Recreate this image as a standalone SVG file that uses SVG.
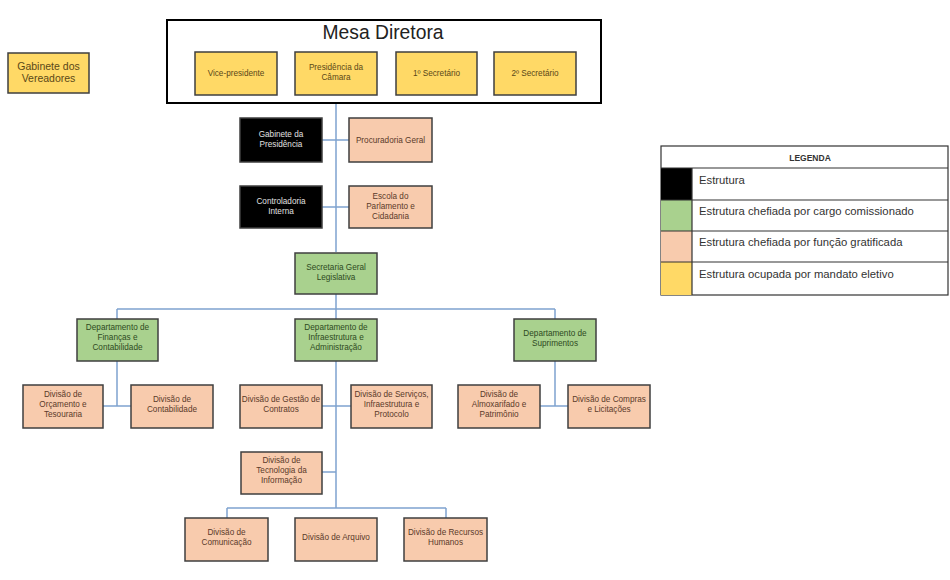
<svg xmlns="http://www.w3.org/2000/svg" width="950" height="580" viewBox="0 0 950 580">
<style>
.b{stroke:#3f3f3f;stroke-width:1.5}
.y{fill:#FFD966}.g{fill:#A9D18E}.o{fill:#F8CBAD}.k{fill:#000}
.t{font-family:"Liberation Sans",Arial,sans-serif;font-size:8.2px;fill:#3d3d3d;text-anchor:middle}
.ty{fill:#5a4818}.tg{fill:#2e4a22}.to{fill:#5a3a2a}
.w{fill:#e0e0e0}
.c{stroke:#7fa3cf;stroke-width:1.5;fill:none}
.lg{font-family:"Liberation Sans",Arial,sans-serif;font-size:11.3px;fill:#333}
</style>
<rect width="950" height="580" fill="#fff"/>
<g id="connectors">
<path class="c" d="M336 103V252M322 140H349M322 207H349M336 294V319M117 309H555M117 309V319M555 309V319M336 361V508M117 361V406M103 406H131M322 406H351M555 361V406M540 406H568M322 472H336M227 508H446M227 508V518M446 508V518"/>
</g>
<g id="mesa">
<rect x="167" y="20" width="434" height="83" fill="#fff" stroke="#000" stroke-width="2"/>
<text x="383" y="39" font-family="Liberation Sans,Arial,sans-serif" font-size="19.3" text-anchor="middle" fill="#222">Mesa Diretora</text>
</g>
<g id="vice"><rect class="b y" x="195" y="52" width="82" height="43"/><text class="t ty" x="236" y="76">Vice-presidente</text></g>
<g id="presidencia"><rect class="b y" x="295" y="52" width="82" height="43"/><text class="t ty" x="336" y="70">Presidência da<tspan x="336" dy="10">Câmara</tspan></text></g>
<g id="sec1"><rect class="b y" x="396" y="52" width="81" height="43"/><text class="t ty" x="436.5" y="76">1º Secretário</text></g>
<g id="sec2"><rect class="b y" x="494" y="52" width="82" height="43"/><text class="t ty" x="535" y="76">2º Secretário</text></g>
<g id="vereadores"><rect class="b y" x="8" y="53" width="81" height="40"/><text class="t ty" x="48.5" y="70" style="font-size:10.5px">Gabinete dos<tspan x="48.5" dy="12">Vereadores</tspan></text></g>
<g id="gabpres"><rect class="b k" x="240" y="118" width="82" height="44"/><text class="t w" x="281" y="137">Gabinete da<tspan x="281" dy="10">Presidência</tspan></text></g>
<g id="procuradoria"><rect class="b o" x="349" y="118" width="83" height="44"/><text class="t to" x="390.5" y="143">Procuradoria Geral</text></g>
<g id="controladoria"><rect class="b k" x="240" y="186" width="82" height="42"/><text class="t w" x="281" y="204">Controladoria<tspan x="281" dy="10">Interna</tspan></text></g>
<g id="escola"><rect class="b o" x="349" y="186" width="83" height="42"/><text class="t to" x="390.5" y="199">Escola do<tspan x="390.5" dy="10">Parlamento e</tspan><tspan x="390.5" dy="10">Cidadania</tspan></text></g>
<g id="secgeral"><rect class="b g" x="295" y="253" width="82" height="41"/><text class="t tg" x="336" y="270">Secretaria Geral<tspan x="336" dy="10">Legislativa</tspan></text></g>
<g id="depfin"><rect class="b g" x="77" y="319" width="81" height="42"/><text class="t tg" x="117.5" y="330">Departamento de<tspan x="117.5" dy="10">Finanças e</tspan><tspan x="117.5" dy="10">Contabilidade</tspan></text></g>
<g id="depinfra"><rect class="b g" x="295" y="319" width="82" height="42"/><text class="t tg" x="336" y="330">Departamento de<tspan x="336" dy="10">Infraestrutura e</tspan><tspan x="336" dy="10">Administração</tspan></text></g>
<g id="depsup"><rect class="b g" x="514" y="319" width="82" height="42"/><text class="t tg" x="555" y="336">Departamento de<tspan x="555" dy="10">Suprimentos</tspan></text></g>
<g id="orcamento"><rect class="b o" x="23" y="385" width="80" height="43"/><text class="t to" x="63" y="397">Divisão de<tspan x="63" dy="10">Orçamento e</tspan><tspan x="63" dy="10">Tesouraria</tspan></text></g>
<g id="contabilidade"><rect class="b o" x="131" y="385" width="82" height="43"/><text class="t to" x="172" y="402">Divisão de<tspan x="172" dy="10">Contabilidade</tspan></text></g>
<g id="contratos"><rect class="b o" x="240" y="385" width="82" height="43"/><text class="t to" x="281" y="402">Divisão de Gestão de<tspan x="281" dy="10">Contratos</tspan></text></g>
<g id="servicos"><rect class="b o" x="351" y="385" width="81" height="43"/><text class="t to" x="391.5" y="397">Divisão de Serviços,<tspan x="391.5" dy="10">Infraestrutura e</tspan><tspan x="391.5" dy="10">Protocolo</tspan></text></g>
<g id="almox"><rect class="b o" x="458" y="385" width="82" height="43"/><text class="t to" x="499" y="397">Divisão de<tspan x="499" dy="10">Almoxarifado e</tspan><tspan x="499" dy="10">Patrimônio</tspan></text></g>
<g id="compras"><rect class="b o" x="568" y="385" width="82" height="43"/><text class="t to" x="609" y="402">Divisão de Compras<tspan x="609" dy="10">e Licitações</tspan></text></g>
<g id="ti"><rect class="b o" x="241" y="452" width="81" height="42"/><text class="t to" x="281.5" y="463">Divisão de<tspan x="281.5" dy="10">Tecnologia da</tspan><tspan x="281.5" dy="10">Informação</tspan></text></g>
<g id="comunicacao"><rect class="b o" x="185" y="518" width="83" height="43"/><text class="t to" x="226.5" y="535">Divisão de<tspan x="226.5" dy="10">Comunicação</tspan></text></g>
<g id="arquivo"><rect class="b o" x="295" y="518" width="82" height="43"/><text class="t to" x="336" y="540">Divisão de Arquivo</text></g>
<g id="rh"><rect class="b o" x="404" y="518" width="83" height="43"/><text class="t to" x="445.5" y="535">Divisão de Recursos<tspan x="445.5" dy="10">Humanos</tspan></text></g>
<g id="legenda">
<rect x="661" y="146" width="287" height="149" fill="#fff" stroke="#333" stroke-width="1.2"/>
<rect x="661" y="168" width="31" height="32" fill="#000"/>
<rect x="661" y="200" width="31" height="31" fill="#A9D18E"/>
<rect x="661" y="231" width="31" height="31" fill="#F8CBAD"/>
<rect x="661" y="262" width="31" height="33" fill="#FFD966"/>
<path d="M661 168H948M661 200H948M661 231H948M661 262H948M692 168V295" stroke="#333" stroke-width="1.2"/>
<text class="lg" x="810" y="161" style="font-size:8.5px;font-weight:bold" text-anchor="middle">LEGENDA</text>
<text class="lg" x="699" y="184">Estrutura</text>
<text class="lg" x="699" y="215">Estrutura chefiada por cargo comissionado</text>
<text class="lg" x="699" y="246">Estrutura chefiada por função gratificada</text>
<text class="lg" x="699" y="278">Estrutura ocupada por mandato eletivo</text>
</g>
</svg>
